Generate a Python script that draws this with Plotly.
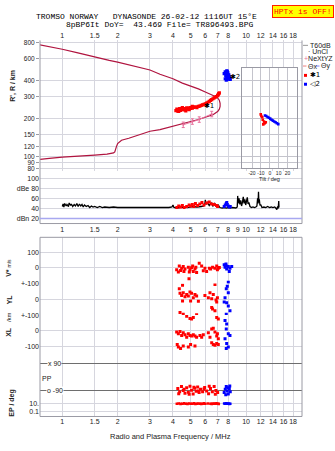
import math
import plotly.graph_objects as go

W, H = 335, 451
def PX(x): return x / W
def PY(y): return 1 - y / H

# ---------------- data ----------------
top_ticks = [1, 1.5, 2, 3, 4, 5, 6, 7, 8, 10, 12, 14, 16, 18]
top_labels = ['1', '1.5', '2', '3', '4', '5', '6', '7', '8', '10', '12', '14', '16', '18']
mid_ticks = [1, 1.5, 2, 3, 4, 5, 6, 7, 8, 9, 10, 12, 14, 16, 18]
mid_labels = ['1', '1.5', '2', '3', '4', '5', '6', '7', '8', '9', '10', '12', '14', '16', '18']
height_ticks = [80, 90, 100, 120, 150, 200, 300, 400, 600, 800]
height_labels = ['80', '90', '100', '120', '150', '200', '300', '400', '600', '800']
db_ticks = [100, 80, 60, 40, 20]
db_labels = ['100', 'dBe 80', '60', '40', 'dBn 20']
tilt_ticks = [-20, -10, 0, 10, 20]
tilt_labels = ['-20', '-10', '0', '10', '20']

# O-mode virtual height profile (MHz, km)
prof_f = [0.755, 0.8, 0.9, 1.0, 1.2, 1.5, 1.8, 2.0, 2.5, 3.0,
          3.4, 4.0, 4.5, 5.0, 5.5, 6.0, 6.3, 6.6, 6.8, 7.0,
          7.15, 7.22, 7.22, 7.15, 7.0, 6.6, 6.3, 6.0, 5.5, 5.0,
          4.5, 4.0, 3.4, 3.0, 2.5, 2.3, 2.1, 2.0, 1.97, 1.95,
          1.93, 1.9, 1.85, 1.75, 1.5, 1.2, 1.0, 0.85, 0.755]
prof_h = [770, 758, 735, 711, 668, 615, 580, 562, 520, 487,
          450, 415, 383, 365, 345, 326, 317, 309, 300, 292,
          280, 265, 250, 238, 228, 215, 210, 205, 197, 190,
          182, 174, 164, 159, 145, 140, 135, 127, 120, 112,
          109, 107, 106, 104.6, 102.7, 101, 99, 97, 95]

# NeXtYZ points
nz_f = [4.55, 5.1, 5.56, 6.5]
nz_h = [179, 190, 197, 218]

# echo trace 1 (red) and 2 (blue), virtual heights
e1_f = [4.15, 4.2, 4.25, 4.3, 4.35, 4.4, 4.45, 4.5, 4.55, 4.6,
        4.65, 4.7, 4.75, 4.8, 4.85, 4.9, 4.95, 5.0, 5.05, 5.1,
        5.2, 5.3, 5.4, 5.5, 5.6, 5.7, 5.8, 5.9, 6.0, 6.1,
        6.2, 6.3, 6.4, 6.5, 6.6, 6.7, 6.8, 6.9, 7.0, 7.05,
        7.1, 7.15, 4.3, 4.5, 4.7, 4.9, 5.1]
e1_h = [232, 238, 230, 236, 240, 233, 238, 242, 236, 240,
        235, 239, 244, 238, 242, 240, 245, 241, 246, 243,
        246, 248, 245, 250, 252, 255, 257, 260, 262, 266,
        270, 274, 279, 283, 288, 292, 297, 300, 305, 310,
        316, 320, 228, 245, 231, 236, 250]
e2_f = [7.6, 7.7, 7.75, 7.8, 7.85, 7.9, 7.95, 8.0, 8.05, 8.1,
        7.7, 7.8, 7.9, 8.0, 7.85, 7.95, 8.15, 8.2]
e2_h = [455, 470, 440, 460, 430, 475, 450, 420, 445, 430,
        415, 405, 410, 440, 480, 465, 420, 410]

# tilt inset (deg, km)
t1_tilt = [-10.2, -9.5, -8.5, -7.9, -6.5, -5.4, -4.5, -7.3, -6.0]
t1_h = [216, 210, 205, 196, 190, 186, 187, 180, 183]
t2_tilt = [-5.4, -4.0, -2.5, -1.0, 0.5, 2.0, 3.5, 5.0, 6.5, 8.0, 9.6]
t2_h = [212, 210, 206, 203, 200, 196, 193, 190, 187, 184, 181]

# amplitude panel (dB)
amp_f = [1.00, 1.01, 1.02, 1.03, 1.05, 1.06, 1.08, 1.09, 1.11, 1.12,
         1.14, 1.16, 1.18, 1.20, 1.22, 1.24, 1.26, 1.28, 1.30, 1.32,
         1.35, 1.38, 1.41, 1.44, 1.47, 1.50, 1.55, 1.60, 1.65, 1.70,
         1.80, 1.90, 2.00, 2.20, 2.40, 2.60, 2.80, 3.00, 3.20, 3.40,
         3.60, 3.80, 3.95, 4.00, 4.05, 4.20, 4.50, 4.80, 5.10, 5.40,
         5.70, 5.90, 5.97, 6.00, 6.05, 6.15, 6.30, 6.45, 6.60, 6.75,
         6.90, 7.05, 7.20, 7.40, 7.60, 7.80, 8.00, 8.20, 8.40, 8.60,
         8.80, 8.95, 9.00, 9.05, 9.15, 9.25, 9.35, 9.45, 9.55, 9.65,
         9.75, 9.85, 9.95, 10.05, 10.15, 10.25, 10.35, 10.50, 10.70, 10.90,
         11.10, 11.30, 11.45, 11.55, 11.62, 11.68, 11.74, 11.80, 11.90, 12.00,
         12.20, 12.50, 12.80, 13.10, 13.40, 13.70, 14.00, 14.30, 14.50, 14.70,
         14.85, 14.95, 15.05, 15.10]
amp_db = [44, 49, 43, 50, 45, 48, 44, 51, 46, 49,
          44, 48, 45, 50, 44, 49, 45, 48, 43, 47,
          44, 46, 42, 45, 43, 44, 42, 44, 42, 43,
          42, 43, 42, 42, 41, 42, 41, 42, 41, 42,
          41, 42, 43, 47, 42, 41, 43, 42, 44, 43,
          44, 45, 50, 57, 48, 52, 46, 51, 45, 50,
          44, 47, 42, 41, 42, 41, 42, 41, 42, 42,
          41, 43, 65, 50, 60, 48, 56, 45, 52, 63,
          50, 58, 47, 56, 62, 49, 52, 44, 42, 43,
          42, 43, 45, 60, 50, 73, 52, 58, 46, 48,
          42, 43, 42, 44, 42, 43, 42, 43, 41, 38,
          44, 40, 55, 42]
a1_f = [4.2, 4.3, 4.4, 4.5, 4.6, 4.75, 4.9, 5.0, 5.1, 5.2, 5.3,
        5.45, 5.6, 5.75, 5.9, 6.1, 6.3, 6.5, 6.7, 6.9, 7.0]
a1_db = [42, 45, 43, 46, 42, 44, 47, 45, 48, 44, 50,
         46, 49, 52, 47, 51, 53, 49, 48, 46, 44]
a2_f = [7.6, 7.7, 7.8, 7.85, 7.9, 8.0, 8.1, 8.2]
a2_db = [44, 47, 50, 52, 48, 45, 43, 44]

# V* (m/s)
v1_f = [4.19, 4.28, 4.33, 4.40, 4.46, 4.55, 4.59, 4.65, 4.85, 4.91,
        4.95, 5.05, 5.12, 5.16, 5.27, 5.33, 5.38, 5.56, 5.73, 5.85,
        5.97, 6.10, 6.31, 6.41, 6.57, 6.77, 6.92, 6.98, 7.06, 7.15, 4.89]
v1 = [-12, -27, 12, -17, -2, 8, -23, -8, 4, -27,
      -12, 0, 12, -23, -8, 4, -29, 29, 12, -19,
      -2, -23, -2, -8, 4, -2, 12, -12, -2, 2, -69]
v2_f = [7.60, 7.80, 8.00, 8.17, 7.84, 7.68, 8.10, 8.00, 8.35, 7.77]
v2 = [19, 12, 8, -2, -8, 4, -23, -92, 8, 25]

# YL (km)
yl1_f = [4.33, 4.37, 4.46, 4.55, 4.51, 4.65, 4.75, 4.85, 4.95, 4.99,
         5.05, 5.16, 5.27, 5.38, 5.50, 5.97, 6.23, 6.36, 6.50, 6.63,
         6.86, 6.92, 6.98, 6.77, 4.51, 4.37, 4.55, 5.38, 6.50, 6.57, 6.77]
yl1 = [67, 38, 25, 42, -10, 17, 31, 21, 46, -10,
       38, 10, 31, 21, -12, 25, 10, 42, 4, 31,
       -4, -17, 10, 94, 90, -83, -94, -98, -52, -62, -73]
yl2_f = [7.90, 7.80, 8.00, 7.68, 7.84, 7.60, 8.00, 8.17, 7.80]
yl2 = [83, 67, 42, 10, -21, -17, -42, -73, -94]

# XL (km)
xl1_f = [4.75, 4.95, 5.05, 5.16, 6.92, 7.06,
         4.19, 4.28, 4.37, 4.46, 4.55, 4.65, 4.75, 4.85, 4.95, 5.05,
         5.16, 5.27, 5.38, 5.61, 5.73, 5.85, 6.23, 6.36, 6.50, 6.63,
         6.77, 6.92, 6.98, 7.06,
         4.22, 4.28, 4.40, 4.55, 4.85, 4.99, 5.27, 6.50, 6.63, 6.77, 6.92, 7.06]
xl1 = [92, 79, 75, 85, 85, 75,
       -8, -19, -4, -29, -12, -25, -40, -19, -29, -33,
       -25, -33, -40, -29, -40, -25, -12, -40, 12, 17,
       -8, -33, -19, -50,
       -87, -102, -112, -96, -102, -87, -96, -75, -87, -92, -81, -87]
xl2_f = [7.68, 7.84, 7.80, 8.00, 8.17, 7.68, 7.84, 8.00, 7.80]
xl2 = [65, 44, 12, -19, -29, -50, -81, -102, -112]

# PP (deg)
pp1_f = [4.25, 4.35, 4.45, 4.55, 4.65, 4.75, 4.85, 4.95, 5.05, 5.15,
         5.25, 5.35, 5.45, 5.55, 5.65, 5.8, 5.95, 6.1, 6.25, 6.4,
         6.55, 6.7, 6.85, 7.0, 4.3, 4.6, 4.9, 5.2, 5.5, 5.9, 6.3, 6.8]
pp1 = [-75, -95, -62, -88, -105, -70, -98, -60, -85, -110,
       -72, -92, -64, -100, -80, -95, -68, -90, -108, -75,
       -96, -62, -88, -100, -108, -80, -112, -66, -90, -78, -60, -112]
pp2_f = [7.6, 7.7, 7.8, 7.9, 8.0, 8.1, 8.2, 7.75, 7.95, 8.15]
pp2 = [-100, -80, -62, -90, -110, -75, -95, -115, -70, -58]

# EP (deg)
ep1_f = [4.2, 4.3, 4.4, 4.5, 4.6, 4.7, 4.8, 4.9, 5.0, 5.1,
         5.2, 5.3, 5.4, 5.5, 5.6, 5.7, 5.8, 5.9, 6.0, 6.2,
         6.4, 6.5, 6.6, 6.7, 6.8, 6.9, 7.0, 7.1]
ep1 = [10, 11, 9, 10, 12, 10, 9, 11, 10, 10,
       12, 9, 10, 11, 10, 9, 10, 12, 10, 11,
       10, 9, 10, 11, 10, 12, 10, 9]
ep2_f = [7.6, 7.7, 7.8, 7.9, 8.0, 8.1, 8.2]
ep2 = [11, 10, 12, 10, 11, 9, 10]

# ---------------- style ----------------
FONT = 'Liberation Sans'
MONO = 'Liberation Mono'
GRID = '#d6d6de'
FRAME = '#9a9aa4'
RED = '#ff0000'
BLUE = '#0000ff'
PROF = '#b0143f'
PINK = '#e8709c'
TXT = '#222222'

FR = [(40 - 62.3) / 183.8, (302 - 62.3) / 183.8]   # log10 frequency range
XD = [PX(40), PX(302)]

fig = go.Figure()

def sc(x, y, xa, ya, **kw):
    fig.add_trace(go.Scatter(x=x, y=y, xaxis=xa, yaxis=ya, hoverinfo='skip', **kw))

def dots(x, y, xa, ya, color, size=3):
    sc(x, y, xa, ya, mode='markers',
       marker=dict(symbol='square', size=size, color=color, line=dict(width=0)))

# main ionogram
sc(prof_f, prof_h, 'x', 'y', mode='lines', line=dict(color=PROF, width=1.2))
sc(nz_f, nz_h, 'x', 'y', mode='lines+markers', line=dict(color=PINK, width=1),
   marker=dict(size=2, color=PINK),
   error_y=dict(type='percent', value=5, color=PINK, thickness=1, width=1.5))
dots(e1_f, e1_h, 'x', 'y', RED, 3.2)
dots(e2_f, e2_h, 'x', 'y', BLUE, 3.2)

# inset
dots(t1_tilt, t1_h, 'x8', 'y8', RED, 2.6)
dots(t2_tilt, t2_h, 'x8', 'y8', BLUE, 2.6)

# amplitude
sc(amp_f, amp_db, 'x2', 'y2', mode='lines', line=dict(color='black', width=1.3))
dots(a1_f, a1_db, 'x2', 'y2', RED, 3)
dots(a2_f, a2_db, 'x2', 'y2', BLUE, 3)

# lower panels
dots(v1_f, v1, 'x3', 'y3', RED)
dots(v2_f, v2, 'x3', 'y3', BLUE)
dots(yl1_f, yl1, 'x3', 'y4', RED)
dots(yl2_f, yl2, 'x3', 'y4', BLUE)
dots(xl1_f, xl1, 'x3', 'y5', RED)
dots(xl2_f, xl2, 'x3', 'y5', BLUE)
dots(pp1_f, pp1, 'x3', 'y6', RED)
dots(pp2_f, pp2, 'x3', 'y6', BLUE)
dots(ep1_f, ep1, 'x3', 'y7', RED, 2.6)
dots(ep2_f, ep2, 'x3', 'y7', BLUE, 2.6)

tickfont = dict(family=FONT, size=7, color=TXT)

def xax(anchor, side, tv, tt, grid, labels=True):
    return dict(type='log', range=FR, domain=XD, anchor=anchor, side=side,
                tickvals=tv, ticktext=tt, showticklabels=labels, tickangle=0,
                showgrid=grid, gridcolor=GRID, gridwidth=1, zeroline=False,
                showline=False, ticks='', tickfont=tickfont, fixedrange=True)

def yax(dom, rng, tv, tt, gridcolor=GRID, typ='linear', labels=True):
    return dict(type=typ, domain=[PY(dom[1]), PY(dom[0])], range=rng, anchor='x3',
                tickvals=tv, ticktext=tt, showticklabels=labels, showgrid=True,
                gridcolor=gridcolor, gridwidth=1, zeroline=False, showline=False,
                ticks='', tickfont=tickfont, fixedrange=True, tickangle=0)

lay = dict(
    width=W, height=H, margin=dict(l=0, r=0, t=0, b=0),
    paper_bgcolor='white', plot_bgcolor='white', showlegend=False,
    xaxis=xax('y', 'top', top_ticks, top_labels, True),
    xaxis2=xax('y2', 'bottom', mid_ticks, mid_labels, False),
    xaxis3=xax('y7', 'bottom', top_ticks, top_labels, True),
    yaxis=dict(type='log', domain=[PY(170), PY(37)], range=[1.883, 2.922], anchor='x',
               tickvals=height_ticks, ticktext=height_labels, showgrid=True,
               gridcolor=GRID, zeroline=False, ticks='outside', ticklen=3, tickangle=0,
               tickcolor=FRAME, tickfont=dict(family=FONT, size=6.5, color=TXT)),
    yaxis2=dict(domain=[PY(223), PY(170)], range=[10.2, 113.7], anchor='x2',
                tickvals=db_ticks, ticktext=db_labels, showgrid=True, gridcolor=GRID,
                zeroline=False, ticks='', tickfont=tickfont, tickangle=0),
    yaxis3=yax((237, 284), [-100, 193.75], [100, 0], ['100', '0']),
    yaxis4=yax((284, 316), [-100, 100], [100, 0, -100], ['+-100', '0', '+-100']),
    yaxis5=yax((316, 357), [-156.25, 100], [0, -100], ['0', '-100']),
    yaxis6=yax((357, 400), [-135, 141.4], [90, -90], ['', ''], gridcolor='#6e6e6e', labels=False),
    yaxis7=yax((400, 419), [-2.25, 2.5], [10, 0.1], ['10.', '0.1'], typ='log'),
    xaxis8=dict(domain=[PX(242), PX(297)], range=[-31.3, 30.7], anchor='y8',
                tickvals=tilt_ticks, ticktext=tilt_labels, showgrid=True, gridcolor='#c4c4cc',
                zeroline=False, showline=True, mirror=True, linecolor=FRAME, linewidth=1,
                ticks='', tickangle=0, tickfont=dict(family=FONT, size=5, color=TXT)),
    yaxis8=dict(type='log', domain=[PY(167), PY(65)], range=[1.906, 2.703], anchor='x8',
                tickvals=height_ticks, showticklabels=False, showgrid=True, gridcolor='#c4c4cc',
                zeroline=False, showline=True, mirror=True, linecolor=FRAME, linewidth=1, ticks=''),
)

shapes = []
def pline(x0, y0, x1, y1, color=FRAME, width=1):
    shapes.append(dict(type='line', xref='paper', yref='paper', x0=PX(x0), y0=PY(y0),
                       x1=PX(x1), y1=PY(y1), line=dict(color=color, width=width)))

# inset opaque background (covers the main grid), in log10 data units of the main axes
shapes.append(dict(type='rect', xref='x', yref='y', layer='between',
                   x0=(242 - 62.3) / 183.8, x1=(297 - 62.3) / 183.8,
                   y0=1.906, y1=2.703,
                   fillcolor='white', line=dict(width=0)))
# frames
pline(40, 37, 40, 223)
pline(302, 37, 302, 223)
pline(40, 223, 302, 223)
shapes.append(dict(type='rect', xref='paper', yref='paper', x0=PX(40), x1=PX(302),
                   y0=PY(419), y1=PY(237), line=dict(color=FRAME, width=1)))
# dBn 20 line
shapes.append(dict(type='line', xref='paper', yref='y2', x0=PX(40), x1=PX(302), y0=20, y1=20,
                   line=dict(color='#a8a8f0', width=1.5)))

# legend glyphs
pline(303, 42, 308, 42, '#999999')
pline(303, 63, 306.5, 63, '#f08080')
pline(316, 63, 319.5, 63, '#8080f0')
shapes.append(dict(type='rect', xref='paper', yref='paper', x0=PX(304), x1=PX(307),
                   y0=PY(74), y1=PY(71), fillcolor=RED, line=dict(width=0)))
shapes.append(dict(type='rect', xref='paper', yref='paper', x0=PX(304), x1=PX(307),
                   y0=PY(83), y1=PY(80), fillcolor=BLUE, line=dict(width=0)))

ann = []
def text(t, x, y, size=7, xanchor='center', color=TXT, family=FONT, angle=0, **kw):
    d = dict(text=t, x=PX(x), y=PY(y), xref='paper', yref='paper', showarrow=False,
             xanchor=xanchor, yanchor='middle', textangle=angle,
             font=dict(size=size, color=color, family=family), borderpad=0)
    d.update(kw)
    ann.append(d)

text('TROMSO NORWAY   DYNASONDE 26-02-12 1116UT 15°E', 35, 12.5, size=8, xanchor='left', family=MONO, color='black')
text('8pBP6It DoY=  43.469 File= TR896493.BPG', 65, 20.5, size=8, xanchor='left', family=MONO, color='black')
text('HPTx is OFF!', 302.5, 8, size=8, family=MONO, color='#ff0000', bgcolor='#ffff00',
     bordercolor='#ff2000', borderwidth=1, borderpad=1)

text("<b>R', R / km</b>", 13, 83, size=7, angle=-90)
text("<b>V*</b> <span style='font-size:5px'>m/s</span>", 9, 268, size=7, angle=-90)
text('<b>YL</b>', 9, 300, size=7, angle=-90)
text('/km', 9, 318, size=6, angle=-90)
text('<b>XL</b>', 9, 333, size=7, angle=-90)
text('<b>EP / deg</b>', 12, 405, size=7, angle=-90)
text('x 90', 54, 365, size=7, bgcolor='white')
text('o -90', 55, 393, size=7, bgcolor='white')
text('PP', 47, 380, size=7)
text('Radio and Plasma Frequency / MHz', 170, 439, size=7.5)
text('Tilt / deg', 269, 178, size=5.5)

# legend texts
text('T60dB', 309, 42, size=7, xanchor='left')
text('· UnCl', 307, 48, size=7, xanchor='left')
text("<span style='color:#e8709c'>+</span>NeXtYZ", 303, 55, size=7, xanchor='left')
text('Θx', 307, 63, size=7, xanchor='left')
text('Θy', 320, 63, size=7, xanchor='left')
text('✱1', 309, 72.5, size=7, xanchor='left', family='DejaVu Sans', color='black')
text('◁2', 309, 81.5, size=7, xanchor='left', family='DejaVu Sans', color='black')

# trace labels on the ionogram
ann.append(dict(text='✱1', x=math.log10(5.75), y=math.log10(250), xref='x', yref='y',
                showarrow=False, xanchor='left', font=dict(size=7, family='DejaVu Sans', color='black')))
ann.append(dict(text='✱2', x=math.log10(7.95), y=math.log10(425), xref='x', yref='y',
                showarrow=False, xanchor='left', font=dict(size=7, family='DejaVu Sans', color='black')))

lay['shapes'] = shapes
lay['annotations'] = ann
fig.update_layout(**lay)
fig.write_html('out.html')
